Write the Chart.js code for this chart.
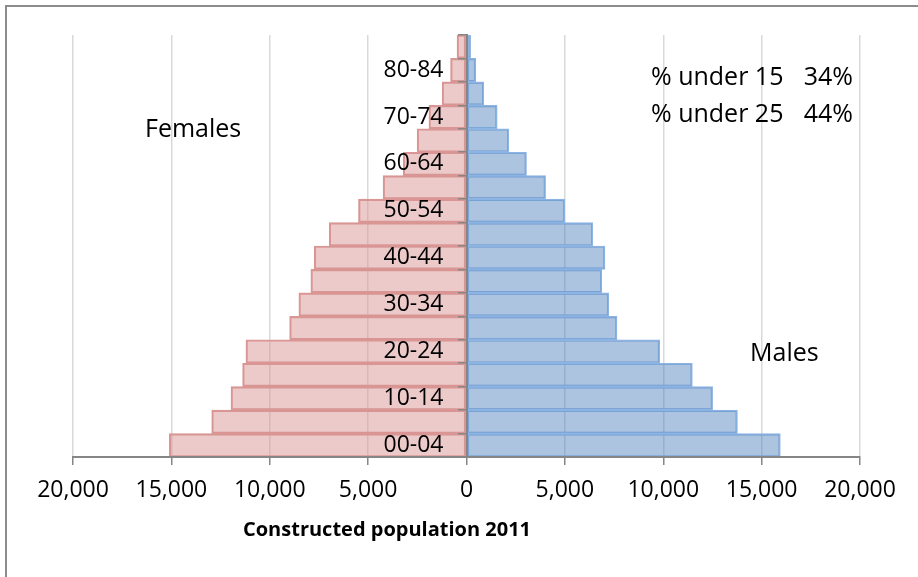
<!DOCTYPE html>
<html><head><meta charset="utf-8">
<script src="https://cdn.jsdelivr.net/npm/chart.js@4.4.1/dist/chart.umd.min.js"></script>
<style>
html,body{margin:0;padding:0;overflow:hidden;background:#fff;width:918px;height:577px}
#frame{position:absolute;left:5px;top:5px;width:1000px;height:1000px;border-left:2px solid #8c8c8c;border-top:2px solid #8c8c8c;box-sizing:border-box}
canvas{position:absolute;left:0;top:0}
</style></head><body>
<div id="frame"></div>
<canvas id="c" width="918" height="577"></canvas>
<script>
const ageGroups = ['00-04','05-09','10-14','15-19','20-24','25-29','30-34','35-39','40-44','45-49','50-54','55-59','60-64','65-69','70-74','75-79','80-84','85+'];
const females = [15110,12950,11970,11380,11210,8990,8520,7910,7740,6980,5490,4240,3220,2510,1910,1240,810,480];
const males   = [15950,13770,12510,11480,9820,7650,7230,6880,7040,6420,5000,4020,3050,2150,1560,880,470,210];
const xTickValues = [-20000,-15000,-10000,-5000,0,5000,10000,15000,20000];
const axisTitle = 'Constructed population 2011';
const noteFemales = 'Females';
const noteMales = 'Males';
const shareRows = [['% under 15','34%'],['% under 25','44%']];

const FONT = "'Open Sans', sans-serif";
Chart.defaults.font.family = FONT;
Chart.defaults.color = '#000';

const notesPlugin = {
  id: 'notes',
  afterDraw(chart) {
    const ctx = chart.ctx;
    ctx.save();
    ctx.fillStyle = '#000';
    ctx.textBaseline = 'middle';
    ctx.font = "25px " + FONT;
    ctx.textAlign = 'left';
    ctx.fillText(noteFemales, 145, 130);
    ctx.fillText(noteMales, 750, 354);
    shareRows.forEach((r, i) => {
      const y = 78 + i * 37;
      ctx.textAlign = 'left';
      ctx.fillText(r[0], 651, y);
      ctx.textAlign = 'right';
      ctx.fillText(r[1], 853, y);
    });
    ctx.font = "bold 20px " + FONT;
    ctx.textAlign = 'center';
    ctx.fillText(axisTitle, 387, 530);
    ctx.restore();
  }
};

new Chart(document.getElementById('c'), {
  type: 'bar',
  data: {
    labels: ageGroups,
    datasets: [
      { label: 'Females', data: females.map(v => -v), backgroundColor: 'rgba(217,150,148,0.5)', borderColor: 'rgb(217,150,148)', borderWidth: 1.5, barPercentage: 1, categoryPercentage: 1, borderSkipped: false },
      { label: 'Males', data: males, backgroundColor: 'rgba(79,129,189,0.47)', borderColor: 'rgb(141,180,226)', borderWidth: 1.5, barPercentage: 1, categoryPercentage: 1, borderSkipped: false }
    ]
  },
  options: {
    indexAxis: 'y',
    responsive: false,
    animation: false,
    layout: { padding: { left: 73, right: 58, top: 35, bottom: 0 } },
    plugins: { legend: { display: false }, tooltip: { enabled: false } },
    scales: {
      x: {
        type: 'linear', min: -20000, max: 20000, stacked: true,
        afterBuildTicks(scale) { scale.ticks = xTickValues.map(v => ({ value: v })); },
        afterFit(scale) { scale.height = 120; },
        ticks: { font: { size: 23 }, padding: 12, maxRotation: 0, autoSkip: false,
          callback: v => Math.abs(v).toLocaleString('en-US') },
        grid: { color: '#d9d9d9', lineWidth: 1.5, tickColor: '#868686', tickLength: 8, drawTicks: true },
        border: { display: true, color: '#868686', width: 2, z: 1 }
      },
      y: {
        type: 'category', stacked: true, reverse: true, position: { x: 0 },
        offset: true,
        ticks: { font: { size: 23 }, autoSkip: false, z: 2,
          callback: function(v, i) { return i % 2 === 0 ? this.getLabelForValue(v) + '\u2003' : ''; } },
        grid: { display: true, drawOnChartArea: false, drawTicks: true, tickLength: 8, tickColor: '#868686', offset: true, lineWidth: 1.5, z: 1 },
        border: { display: true, color: '#868686', width: 2, z: 1 }
      }
    }
  },
  plugins: [notesPlugin]
});
</script>
</body></html>
